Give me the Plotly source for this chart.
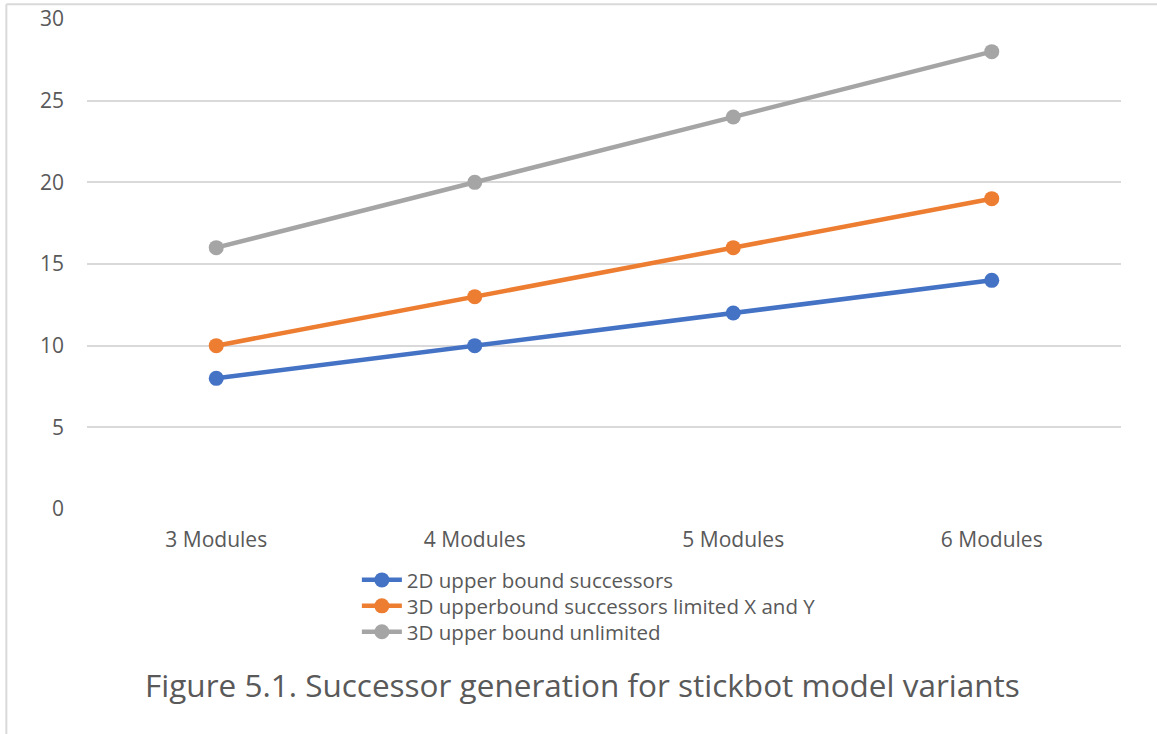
import plotly.graph_objects as go

categories = ["3 Modules", "4 Modules", "5 Modules", "6 Modules"]
upper_2d = [8, 10, 12, 14]
upper_3d_limited = [10, 13, 16, 19]
upper_3d_unlimited = [16, 20, 24, 28]

series = [
    ("2D upper bound successors", upper_2d, "#4472C4", "legend", -0.145),
    ("3D upperbound successors limited X and Y", upper_3d_limited, "#ED7D31", "legend2", -0.198),
    ("3D upper bound unlimited", upper_3d_unlimited, "#A5A5A5", "legend3", -0.251),
]

font_family = "Open Sans, Liberation Sans, sans-serif"
text_color = "#595959"

fig = go.Figure()
legend_layouts = {}
for name, values, color, legend_id, legend_y in series:
    fig.add_trace(go.Scatter(
        x=categories, y=values, name=name, mode="lines+markers",
        line=dict(color=color, width=4.5),
        marker=dict(color=color, size=15),
        legend=legend_id,
    ))
    legend_layouts[legend_id] = dict(
        x=0.261, y=legend_y, xanchor="left", yanchor="middle",
        font=dict(size=20.5, color=text_color),
        bgcolor="rgba(0,0,0,0)", itemwidth=40,
    )

fig.update_layout(
    width=1157, height=734,
    margin=dict(l=87, r=36, t=19, b=225, autoexpand=False),
    paper_bgcolor="white", plot_bgcolor="white",
    font=dict(family=font_family, color=text_color, size=21),
    showlegend=True,
    xaxis=dict(
        type="category", range=[-0.5, 3.5], automargin=False,
        showgrid=False, showline=False, zeroline=False,
        ticks="", ticklabelstandoff=16,
        tickfont=dict(size=21, color=text_color),
    ),
    yaxis=dict(
        range=[0, 30], dtick=5, automargin=False,
        showgrid=True, gridcolor="#D9D9D9", gridwidth=1.5,
        zeroline=False, showline=False, ticks="",
        ticklabelstandoff=22,
        tickfont=dict(size=21, color=text_color),
    ),
    **legend_layouts,
)

# Caption under the chart
fig.add_annotation(
    text="Figure 5.1. Successor generation for stickbot model variants",
    xref="paper", yref="paper", x=0.479, y=-0.359,
    xanchor="center", yanchor="middle", showarrow=False,
    font=dict(size=31.5, color=text_color, family=font_family),
)

# Chart frame (left and top edges)
fig.add_shape(type="line", xref="paper", yref="paper",
              x0=-0.078, x1=-0.078, y0=1.03, y1=-0.46,
              line=dict(color="#D9D9D9", width=2))
fig.add_shape(type="line", xref="paper", yref="paper",
              x0=-0.078, x1=1.04, y0=1.03, y1=1.03,
              line=dict(color="#D9D9D9", width=2))

fig.write_html("out.html")
